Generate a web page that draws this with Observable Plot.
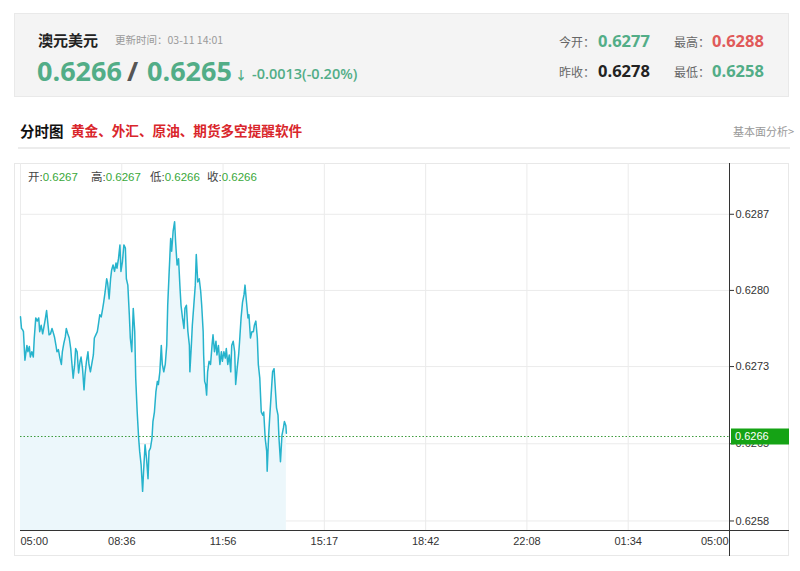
<!DOCTYPE html>
<html>
<head>
<meta charset="utf-8">
<script src="https://cdn.jsdelivr.net/npm/d3@7"></script>
<script src="https://cdn.jsdelivr.net/npm/@observablehq/plot@0.6"></script>
<style>
  body { margin:0; width:800px; height:571px; position:relative; overflow:hidden; background:#fff;
         font-family:"Open Sans","Noto Sans CJK SC",sans-serif; }
  .abs { position:absolute; white-space:nowrap; line-height:1; }
  .cjk { font-family:"Noto Sans CJK SC","Open Sans",sans-serif; }
  #header { position:absolute; left:14px; top:13px; width:775px; height:84px; background:#f4f4f4;
            border:1px solid #e9e9e9; box-sizing:border-box; }
  #panel { position:absolute; left:14px; top:163px; width:775px; height:393px; border:1px solid #e8e8e8;
           box-sizing:border-box; background:#fff; }
  #chart { position:absolute; left:0; top:150px; }
  .info { font-family:"Liberation Sans","Noto Sans CJK SC",sans-serif; font-size:11.5px; color:#444; }
  .info b { font-weight:normal; color:#3aa83a; }
</style>
</head>
<body>
<div id="header"></div>
<div id="panel"></div>
<div id="chart"></div>
<script>
// ---- header data ----
const pairName = "澳元美元";
const updateTime = "更新时间：03-11 14:01";
const bidPrice = "0.6266";
const askPrice = "0.6265";
const changeText = "-0.0013(-0.20%)";
const statLabels = ["今开：", "最高：", "昨收：", "最低："];
const statValues = ["0.6277", "0.6288", "0.6278", "0.6258"];
const statColors = ["#52ad87", "#e05a5a", "#222", "#52ad87"];
const sectionTitle = "分时图";
const promoText = "黄金、外汇、原油、期货多空提醒软件";
const linkText = "基本面分析>";
const ohlcLabels = ["开:", "高:", "低:", "收:"];
const ohlcValues = ["0.6267", "0.6267", "0.6266", "0.6266"];

// ---- chart data ----
const xTickLabels = ["05:00", "08:36", "11:56", "15:17", "18:42", "22:08", "01:34", "05:00"];
const sessionMinutes = 1440;
const yTickValues = [0.6287, 0.62798, 0.62726, 0.62653, 0.6258];
const yTickLabels = ["0.6287", "0.6280", "0.6273", "0.6265", "0.6258"];
const yDomain = [0.62571, 0.62918];
const lastPrice = 0.6266;
const lastPriceLabel = "0.6266";
// [minutes since 05:00, price]
const series = [
[0,0.62773],[2,0.62762],[4,0.62761],[6,0.62759],[9,0.62732],[13,0.62746],[15,0.62740],[18,0.62745],
[20,0.62735],[23,0.62740],[26,0.62735],[28,0.62753],[31,0.62772],[34,0.62769],[37,0.62772],[39,0.62759],
[42,0.62765],[45,0.62757],[47,0.62762],[50,0.62770],[53,0.62779],[56,0.62765],[58,0.62756],[61,0.62757],
[64,0.62762],[66,0.62759],[69,0.62754],[72,0.62746],[74,0.62740],[77,0.62742],[80,0.62734],[83,0.62728],
[85,0.62740],[88,0.62748],[91,0.62754],[93,0.62762],[96,0.62757],[99,0.62753],[102,0.62743],[104,0.62731],
[107,0.62715],[110,0.62728],[112,0.62743],[115,0.62740],[118,0.62720],[121,0.62731],[123,0.62735],[126,0.62724],
[129,0.62704],[131,0.62718],[134,0.62731],[137,0.62740],[139,0.62728],[142,0.62721],[145,0.62729],[148,0.62737],
[150,0.62753],[153,0.62756],[156,0.62759],[158,0.62765],[161,0.62775],[164,0.62773],[167,0.62781],[169,0.62787],
[172,0.62797],[175,0.62809],[177,0.62805],[180,0.62790],[183,0.62809],[185,0.62817],[188,0.62822],[191,0.62816],
[194,0.62824],[196,0.62819],[199,0.62828],[202,0.62841],[204,0.62816],[207,0.62825],[210,0.62841],[213,0.62838],
[215,0.62809],[218,0.62803],[221,0.62775],[223,0.62753],[226,0.62740],[229,0.62781],[232,0.62759],[234,0.62715],
[237,0.62683],[240,0.62658],[242,0.62646],[245,0.62633],[248,0.62608],[250,0.62627],[253,0.62652],[256,0.62639],
[259,0.62620],[261,0.62646],[264,0.62649],[267,0.62658],[269,0.62674],[272,0.62683],[275,0.62702],[278,0.62712],
[280,0.62709],[283,0.62721],[286,0.62746],[288,0.62728],[291,0.62721],[294,0.62728],[297,0.62746],[299,0.62784],
[302,0.62816],[305,0.62847],[307,0.62835],[310,0.62854],[313,0.62863],[315,0.62844],[318,0.62822],[321,0.62828],
[324,0.62800],[326,0.62784],[329,0.62772],[332,0.62762],[334,0.62781],[337,0.62784],[340,0.62759],[343,0.62746],
[344,0.62721],[347,0.62746],[349,0.62765],[352,0.62784],[355,0.62803],[357,0.62832],[360,0.62806],[363,0.62809],
[366,0.62797],[368,0.62784],[371,0.62759],[372,0.62737],[374,0.62712],[376,0.62709],[378,0.62699],[380,0.62721],
[383,0.62731],[386,0.62728],[389,0.62746],[391,0.62756],[394,0.62740],[397,0.62750],[399,0.62737],[402,0.62746],
[405,0.62728],[408,0.62740],[410,0.62731],[413,0.62740],[416,0.62734],[418,0.62743],[421,0.62728],[424,0.62737],
[427,0.62721],[429,0.62746],[432,0.62750],[435,0.62740],[437,0.62709],[440,0.62724],[443,0.62737],[445,0.62750],
[448,0.62772],[451,0.62787],[454,0.62794],[456,0.62803],[459,0.62787],[462,0.62772],[464,0.62775],[467,0.62753],
[470,0.62759],[473,0.62759],[475,0.62765],[478,0.62769],[481,0.62753],[483,0.62728],[486,0.62715],[489,0.62683],
[492,0.62680],[494,0.62683],[497,0.62658],[500,0.62646],[501,0.62627],[504,0.62661],[506,0.62677],[509,0.62699],
[512,0.62721],[515,0.62724],[517,0.62709],[520,0.62687],[523,0.62680],[525,0.62658],[528,0.62636],[531,0.62661],
[534,0.62668],[536,0.62674],[539,0.62670],[540,0.62663]
];

// ---- HTML text ----
function addText(parent, txt, left, top, style, cls) {
  const el = document.createElement("span");
  el.className = "abs " + (cls || "");
  el.textContent = txt;
  el.style.left = left + "px"; el.style.top = top + "px";
  Object.assign(el.style, style || {});
  parent.appendChild(el);
  return el;
}
const body = document.body;
addText(body, pairName, 38, 32, {fontSize:"15px", fontWeight:"bold", color:"#222"}, "cjk");
addText(body, updateTime, 115, 35, {fontSize:"10.5px", color:"#9a9a9a"}, "cjk");
addText(body, bidPrice, 37, 57, {fontSize:"27px", fontWeight:"bold", color:"#52ad87"});
addText(body, "/", 127, 57, {fontSize:"27px", fontWeight:"bold", color:"#555"});
addText(body, askPrice, 147, 57, {fontSize:"27px", fontWeight:"bold", color:"#52ad87"});
addText(body, "↓", 235, 69, {fontSize:"12px", fontWeight:"bold", color:"#52ad87"}, "cjk");
addText(body, changeText, 252, 67, {fontSize:"14.5px", fontWeight:"600", color:"#52ad87"});
const statX = [[559, 598], [674, 712], [559, 598], [674, 712]];
const statY = [42, 42, 72, 72];
statLabels.forEach((l, i) => {
  addText(body, l, statX[i][0], statY[i] - 6, {fontSize:"12px", color:"#666"}, "cjk");
  addText(body, statValues[i], statX[i][1], statY[i] - 9, {fontSize:"16.5px", fontWeight:"bold", color:statColors[i]});
});
addText(body, sectionTitle, 20, 124, {fontSize:"14.5px", fontWeight:"bold", color:"#111"}, "cjk");
addText(body, promoText, 71, 124, {fontSize:"13.6px", fontWeight:"bold", color:"#d9262b"}, "cjk");
addText(body, linkText, 733, 126, {fontSize:"11px", color:"#999"}, "cjk");
const rule = document.createElement("div");
Object.assign(rule.style, {position:"absolute", left:"18px", top:"147px", width:"772px", height:"2px", background:"#ececec"});
body.appendChild(rule);
const ohlcX = [28, 91, 150, 207];
ohlcLabels.forEach((l, i) => {
  const el = addText(body, "", ohlcX[i], 172, {zIndex:5}, "info");
  el.innerHTML = l + "<b>" + ohlcValues[i] + "</b>";
});

// ---- chart ----
const data = series.map(([m, v]) => ({m, v}));
const xTicks = xTickLabels.map((_, i) => i * sessionMinutes / (xTickLabels.length - 1));
const yLabelMap = new Map(yTickValues.map((v, i) => [v, yTickLabels[i]]));
const labelData = xTickLabels.map((t, i) => ({t, m: xTicks[i]}));
const axisFont = "Liberation Sans, Arial, sans-serif";

const frameMark = (index, scales, values, dims) => {
  const g = d3.create("svg:g");
  const left = dims.marginLeft, right = dims.width - dims.marginRight, bottom = dims.height - dims.marginBottom;
  const yl = Math.round(scales.y(lastPrice)) + 0.5;
  g.append("line").attr("x1", left).attr("x2", right).attr("y1", yl).attr("y2", yl)
    .attr("stroke", "#3d9b3d").attr("stroke-dasharray", "1.5,2").attr("stroke-width", 1);
  g.append("line").attr("x1", right + 0.5).attr("x2", right + 0.5).attr("y1", dims.marginTop).attr("y2", dims.height - 4)
    .attr("stroke", "#333");
  g.append("line").attr("x1", left).attr("x2", dims.width - 11).attr("y1", bottom + 0.5).attr("y2", bottom + 0.5)
    .attr("stroke", "#333");
  g.append("rect").attr("x", right + 2).attr("y", yl - 8).attr("width", dims.width - 11 - right - 2).attr("height", 16)
    .attr("fill", "#15a315");
  g.append("text").attr("x", right + 6).attr("y", yl).attr("dy", "0.35em").attr("fill", "#fff")
    .attr("text-anchor", "start").attr("font-size", 11).attr("font-family", axisFont).text(lastPriceLabel);
  return g.node();
};

const chart = Plot.plot({
  width: 800,
  height: 410,
  marginLeft: 20,
  marginRight: 71,
  marginTop: 13,
  marginBottom: 30,
  style: {background: "transparent", overflow: "visible", fontFamily: axisFont},
  x: {type: "linear", domain: [0, sessionMinutes], axis: null},
  y: {domain: yDomain, axis: null},
  marks: [
    Plot.gridY(yTickValues, {stroke: "#ebebeb", strokeOpacity: 1}),
    Plot.gridX(xTicks.slice(0, -1), {stroke: "#ebebeb", strokeOpacity: 1}),
    Plot.areaY(data, {x: "m", y1: yDomain[0], y2: "v", fill: "#ecf7fb", fillOpacity: 1}),
    Plot.line(data, {x: "m", y: "v", stroke: "#26b3cc", strokeWidth: 1.5}),
    Plot.axisY(yTickValues, {anchor: "right", label: null, tickSize: 4, tickPadding: 2, fontSize: 11, color: "#333",
      tickFormat: d => yLabelMap.get(d)}),
    Plot.text(labelData.slice(0, 1), {x: "m", y: yDomain[0], text: "t", dy: 11, textAnchor: "start", fontSize: 11, fill: "#333"}),
    Plot.text(labelData.slice(1, -1), {x: "m", y: yDomain[0], text: "t", dy: 11, textAnchor: "middle", fontSize: 11, fill: "#333"}),
    Plot.text(labelData.slice(-1), {x: "m", y: yDomain[0], text: "t", dy: 11, dx: -1, textAnchor: "end", fontSize: 11, fill: "#333"}),
    frameMark
  ]
});
document.getElementById("chart").appendChild(chart);
</script>
</body>
</html>
